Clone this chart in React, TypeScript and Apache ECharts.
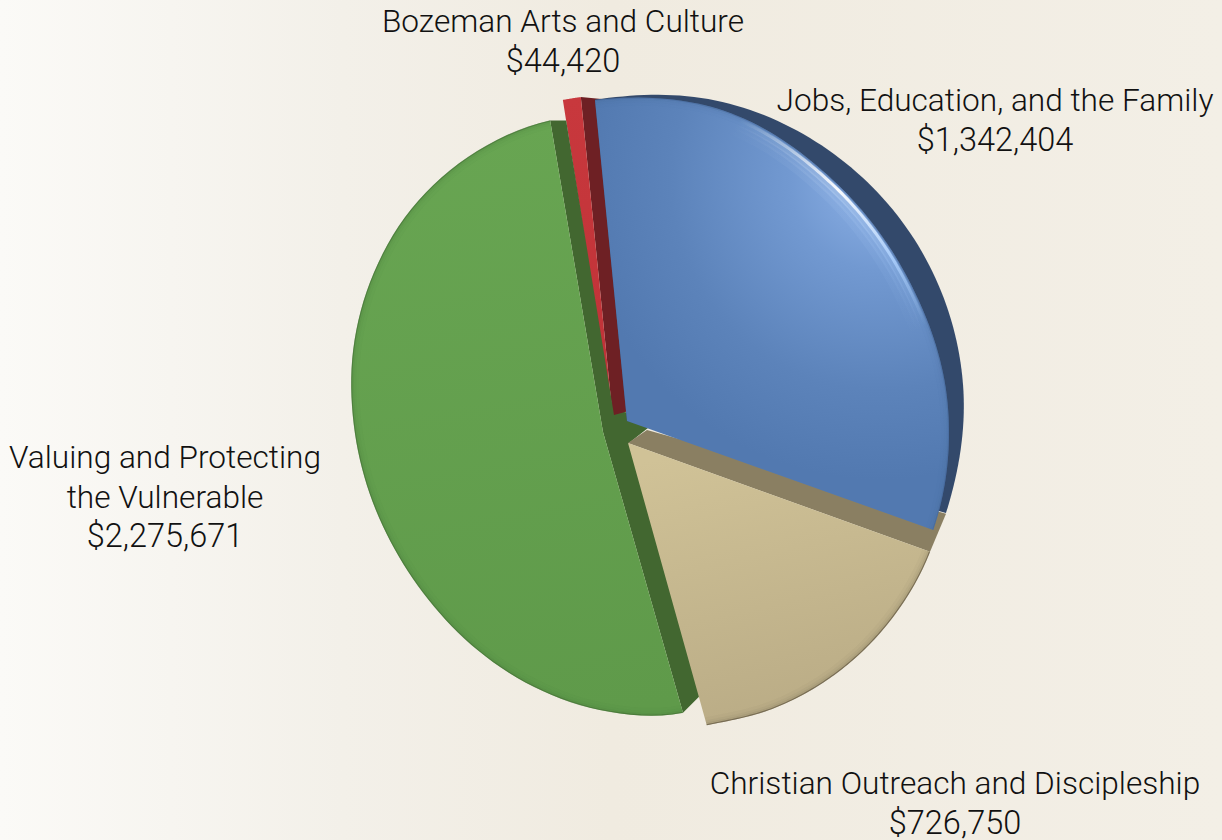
import React, { useEffect, useRef } from "react";
import * as echarts from "echarts";

const categories = [
  "Bozeman Arts and Culture",
  "Valuing and Protecting the Vulnerable",
  "Christian Outreach and Discipleship",
  "Jobs, Education, and the Family",
];
const amounts = [44420, 2275671, 726750, 1342404];
const labelLines = [
  ["Bozeman Arts and Culture"],
  ["Valuing and Protecting", "the Vulnerable"],
  ["Christian Outreach and Discipleship"],
  ["Jobs, Education, and the Family"],
];

type Off = [string, number, number];
type Slice = {
  apex: [number, number];
  phi0: number;
  k: number;
  radii: number[];
  front: [string, string];
  gradient: [number, number, number, number];
  radial?: [number, number, number];
  stops?: [number, string][];
  side: string;
  sidePts?: Off[];
  back?: { phi1: number; radii: number[] };
  rim: string;
  rimOpacity: number;
};

const layout: Slice[] = [
  {
    apex: [613, 420], phi0: -98.9, k: 0.88, radii: [324, 324.5],
    front: ["#c8383d", "#bf3237"], gradient: [563, 100, 613, 420],
    side: "#6e2024",
    sidePts: [["end", 0, 0], ["end", 31, 3], ["apex", 14, -9], ["apex", 0, 0]],
    rim: "#c8383d", rimOpacity: 0,
  },
  {
    apex: [603, 432], phi0: 74.1, k: 0.998,
    radii: [292, 279, 264, 251, 242, 239, 242, 250, 263, 278, 294, 307, 316],
    front: ["#68a552", "#5f9a4a"], gradient: [500, 120, 600, 714],
    side: "#426730",
    sidePts: [
      ["end", 0, 0], ["end", 16, 0], ["apex", 11, -17], ["apex", 22, -20], ["apex", 50, -8],
      ["apex", 26, 11], ["start", 17, -17], ["start", 0, 0], ["apex", 0, 0],
    ],
    rim: "#3c6430", rimOpacity: 0.5,
  },
  {
    apex: [628, 443], phi0: 19.8, k: 0.916, radii: [321, 317, 311, 303, 293],
    front: ["#d0c297", "#baac86"], gradient: [700, 450, 760, 725],
    side: "#8a7f62",
    sidePts: [["apex", 0, 0], ["start", 0, 0], ["start", 16, -38], ["apex", 19, -13]],
    rim: "#5f5642", rimOpacity: 0.7,
  },
  {
    apex: [627, 421], phi0: -95.7, k: 1.047, radii: [322.6, 325, 317, 315, 321, 325],
    front: ["#84a9dc", "#4f76ae"], gradient: [880, 170, 700, 480],
    radial: [880, 180, 300],
    stops: [[0, "#8fb3e8"], [0.3, "#7299d1"], [0.7, "#5c83ba"], [1, "#5279b0"]],
    side: "#33496b",
    back: { phi1: 16.1, radii: [323, 333, 338, 340, 338, 332] },
    rim: "#3f5f8f", rimOpacity: 0.4,
  },
];

const TOTAL_W = 1222;
const TOTAL_H = 840;
const rad = (d: number) => (d * Math.PI) / 180;

function rimRadius(radii: number[], u: number) {
  const n = radii.length - 1;
  const x = Math.min(Math.max(u, 0), 1) * n;
  const i = Math.min(Math.floor(x), n - 1);
  const t = x - i;
  const p0 = radii[Math.max(i - 1, 0)];
  const p1 = radii[i];
  const p2 = radii[i + 1];
  const p3 = radii[Math.min(i + 2, n)];
  return 0.5 * (2 * p1 + (p2 - p0) * t + (2 * p0 - 5 * p1 + 4 * p2 - p3) * t * t + (3 * p1 - p0 - 3 * p2 + p3) * t * t * t);
}

function arcPoints(apex: number[], phi0: number, phi1: number, radii: number[], u0 = 0, u1 = 1, inset = 0) {
  const pts: number[][] = [];
  const steps = 90;
  for (let i = 0; i <= steps; i++) {
    const u = u0 + ((u1 - u0) * i) / steps;
    const phi = phi0 + (phi1 - phi0) * u;
    const r = rimRadius(radii, u) - inset;
    pts.push([apex[0] + r * Math.cos(rad(phi)), apex[1] + r * Math.sin(rad(phi))]);
  }
  return pts;
}

function App() {
  const ref = useRef<HTMLDivElement>(null);
  useEffect(() => {
    document.body.style.margin = "0";
    document.body.style.overflow = "hidden";
    const chart = echarts.init(ref.current!, undefined, { renderer: "svg" });
    const sum = amounts.reduce((a, b) => a + b, 0);
    const labelPos = [
      { x: 563, y: 21 },
      { x: 165, y: 457 },
      { x: 955, y: 783 },
      { x: 995, y: 100 },
    ];
    const fontBase = { fontFamily: "Roboto", fontWeight: 300, fontSize: 31.6, fill: "#111111" };

    const renderItem = (params: any, api: any) => {
      const idx = params.dataIndex;
      const v = api.value(0) as number;
      const s = layout[idx];
      const sweep = (v / sum) * 360 * s.k;
      const phi1 = s.phi0 + sweep;
      const rim = arcPoints(s.apex, s.phi0, phi1, s.radii);
      const anchor: Record<string, number[]> = { apex: s.apex, start: rim[0], end: rim[rim.length - 1] };
      const children: any[] = [];

      if (s.back) {
        children.push({
          type: "polygon",
          shape: { points: [s.apex, ...arcPoints(s.apex, s.phi0, s.back.phi1, s.back.radii)] },
          style: { fill: s.side },
        });
      }
      if (s.sidePts) {
        children.push({
          type: "polygon",
          shape: { points: s.sidePts.map(([a, dx, dy]) => [anchor[a][0] + dx, anchor[a][1] + dy]) },
          style: { fill: s.side },
        });
      }
      const [gx0, gy0, gx1, gy1] = s.gradient;
      const fill = s.radial
        ? new echarts.graphic.RadialGradient(s.radial[0], s.radial[1], s.radial[2],
            s.stops!.map(([offset, color]) => ({ offset, color })), true)
        : new echarts.graphic.LinearGradient(gx0, gy0, gx1, gy1, [
            { offset: 0, color: s.front[0] },
            { offset: 1, color: s.front[1] },
          ], true);
      children.push({ type: "polygon", shape: { points: [s.apex, ...rim] }, style: { fill } });
      if (s.rimOpacity > 0) {
        [[5, 6, 0.05], [3, 4, 0.08], [1.5, 2.5, 0.15], [0.5, 1.2, 1]].forEach(([inset, lineWidth, o]) => {
          children.push({
            type: "polyline",
            shape: { points: arcPoints(s.apex, s.phi0, phi1, s.radii, 0, 1, inset) },
            style: { stroke: s.rim, lineWidth, fill: "none", opacity: s.rimOpacity * o },
          });
        });
      }
      if (s.back) {
        const glow = (inset: number, width: number, opacity: number, core: string) => ({
          type: "polyline",
          shape: { points: arcPoints(s.apex, s.phi0, phi1, s.radii, 0.2, 0.72, inset) },
          style: {
            fill: "none",
            lineWidth: width,
            opacity,
            stroke: new echarts.graphic.LinearGradient(740, 120, 935, 380, [
              { offset: 0, color: "rgba(255,255,255,0)" },
              { offset: 0.35, color: core },
              { offset: 0.62, color: "#a9cdfb" },
              { offset: 0.85, color: "rgba(169,205,251,0)" },
            ], true),
          },
        });
        children.push(glow(16, 8, 0.08, "#cfe4ff"));
        children.push(glow(11, 6, 0.14, "#cfe4ff"));
        children.push(glow(7, 5, 0.28, "#dcecff"));
        children.push(glow(3.5, 3, 0.95, "#ffffff"));
      }

      labelLines[idx].forEach((line, i) => {
        children.push({
          type: "text",
          x: labelPos[idx].x,
          y: labelPos[idx].y + i * 40,
          style: { ...fontBase, text: line, align: "center", verticalAlign: "middle" },
        });
      });
      children.push({
        type: "text",
        x: labelPos[idx].x,
        y: labelPos[idx].y + labelLines[idx].length * 39.5,
        style: { ...fontBase, fontSize: 32.5, text: "$" + v.toLocaleString("en-US"), align: "center", verticalAlign: "middle" },
      });
      return { type: "group", children };
    };

    chart.setOption({
      animation: false,
      backgroundColor: new echarts.graphic.LinearGradient(0, 0, 1, 0, [
        { offset: 0, color: "#fbfaf7" },
        { offset: 0.28, color: "#f3f0e9" },
        { offset: 0.5, color: "#f0ebe0" },
        { offset: 1, color: "#f3efe6" },
      ]),
      series: [
        {
          type: "custom",
          coordinateSystem: "none",
          name: "Budget",
          renderItem,
          data: amounts.map((value, i) => ({ name: categories[i], value: [value] })),
        },
      ],
    });
    return () => chart.dispose();
  }, []);
  return <div ref={ref} style={{ width: TOTAL_W, height: TOTAL_H }} />;
}

export default App;
